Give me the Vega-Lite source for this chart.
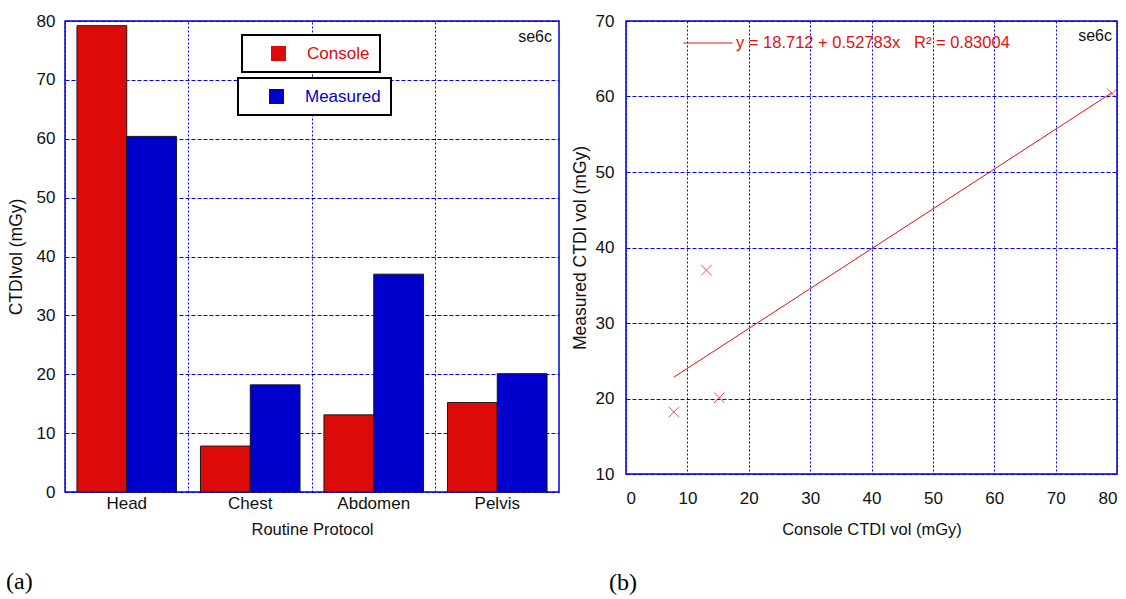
{
  "$schema": "https://vega.github.io/schema/vega-lite/v6.json",
  "padding": {"left": 5, "top": 11, "right": 5, "bottom": 0},
  "background": "white",
  "config": {
    "font": "Liberation Sans",
    "view": {"stroke": "#0000dd", "strokeWidth": 1.5},
    "axis": {
      "labelFont": "Liberation Sans", "titleFont": "Liberation Sans",
      "labelFontSize": 17, "titleFontSize": 16.5, "titleFontWeight": "normal",
      "labelColor": "#111111", "titleColor": "#111111",
      "gridColor": "#0000ee", "gridOpacity": 1, "gridWidth": 1,
      "domain": false, "ticks": false
    },
    "axisY": {"titleFontSize": 17.5},
    "legend": {"labelFont": "Liberation Sans", "strokeWidth": 2}
  },
  "resolve": {"scale": {"color": "independent"}, "legend": {"color": "independent"}},
  "datasets": {
    "bars": [
      {"protocol": "Head", "series": "Console", "value": 79.2},
      {"protocol": "Head", "series": "Measured", "value": 60.4},
      {"protocol": "Chest", "series": "Console", "value": 7.8},
      {"protocol": "Chest", "series": "Measured", "value": 18.2},
      {"protocol": "Abdomen", "series": "Console", "value": 13.1},
      {"protocol": "Abdomen", "series": "Measured", "value": 37.0},
      {"protocol": "Pelvis", "series": "Console", "value": 15.2},
      {"protocol": "Pelvis", "series": "Measured", "value": 20.1}
    ],
    "annotA": [{"label": "se6c", "protocol": "Pelvis", "y": 77.3}],
    "scatter": [
      {"console": 7.8, "measured": 18.2},
      {"console": 13.1, "measured": 37.0},
      {"console": 15.2, "measured": 20.1},
      {"console": 79.2, "measured": 60.4}
    ],
    "fit": [
      {"x": 7.8, "y": 22.83, "fit": "y = 18.712 + 0.52783x\u00a0\u00a0\u00a0R² = 0.83004"},
      {"x": 79.2, "y": 60.52, "fit": "y = 18.712 + 0.52783x\u00a0\u00a0\u00a0R² = 0.83004"}
    ],
    "annotB": [{"label": "se6c", "x": 80, "y": 68}]
  },
  "spacing": 10,
  "hconcat": [
    {
      "width": 494,
      "height": 471,
      "title": {"text": "(a)", "orient": "bottom", "anchor": "start", "frame": "group", "dx": -59, "offset": 32, "font": "Liberation Serif", "fontSize": 24, "fontWeight": "normal", "color": "#000000"},
      "layer": [
        {
          "data": {"name": "bars"},
          "transform": [{"filter": "datum.series === 'Console'"}],
          "mark": {"type": "bar", "stroke": "#1a1a1a", "strokeWidth": 1},
          "encoding": {
            "x": {"field": "protocol", "type": "nominal",
              "scale": {"domain": ["Head", "Chest", "Abdomen", "Pelvis"], "paddingInner": 0, "paddingOuter": 0},
              "axis": {"title": "Routine Protocol", "labelAngle": 0, "labelPadding": 3, "titlePadding": 10, "grid": false}},
            "xOffset": {"field": "series", "type": "nominal", "scale": {"domain": ["Console", "Measured"], "paddingInner": 0, "paddingOuter": 0.24}},
            "y": {"field": "value", "type": "quantitative", "scale": {"domain": [0, 80], "nice": false},
              "axis": {"title": "CTDIvol (mGy)", "values": [0, 10, 20, 30, 40, 50, 60, 70, 80], "grid": true, "gridDash": [4, 2], "labelPadding": 10, "titlePadding": 11}},
            "color": {"field": "series", "type": "nominal", "scale": {"domain": ["Console"], "range": ["#dd0a0a"]},
              "legend": {"title": null, "orient": "none", "legendX": 177, "legendY": 14, "strokeColor": "black", "fillColor": "white", "padding": 10, "symbolType": "square", "symbolSize": 225, "symbolOffset": 18, "labelOffset": 20, "labelColor": "#dd0a0a", "labelFontSize": 17, "symbolStrokeWidth": 0}}
          }
        },
        {
          "data": {"name": "bars"},
          "transform": [{"filter": "datum.series === 'Measured'"}],
          "mark": {"type": "bar", "stroke": "#1a1a1a", "strokeWidth": 1},
          "encoding": {
            "x": {"field": "protocol", "type": "nominal",
              "scale": {"domain": ["Head", "Chest", "Abdomen", "Pelvis"], "paddingInner": 0, "paddingOuter": 0},
              "axis": null},
            "xOffset": {"field": "series", "type": "nominal", "scale": {"domain": ["Console", "Measured"], "paddingInner": 0, "paddingOuter": 0.24}},
            "y": {"field": "value", "type": "quantitative", "scale": {"domain": [0, 80], "nice": false},
              "axis": {"title": "CTDIvol (mGy)", "values": [0, 10, 20, 30, 40, 50, 60, 70, 80], "grid": true, "gridDash": [4, 2], "labelPadding": 10, "titlePadding": 11}},
            "color": {"field": "series", "type": "nominal", "scale": {"domain": ["Measured"], "range": ["#0000cc"]},
              "legend": {"title": null, "orient": "none", "legendX": 173, "legendY": 57, "strokeColor": "black", "fillColor": "white", "padding": 10, "symbolType": "square", "symbolSize": 225, "symbolOffset": 20, "labelOffset": 20, "labelColor": "#0000cc", "labelFontSize": 17, "symbolStrokeWidth": 0}}
          }
        },
        {
          "data": {"name": "annotA"},
          "mark": {"type": "text", "align": "right", "baseline": "middle", "dx": -7, "fontSize": 16, "color": "#111111"},
          "encoding": {
            "x": {"field": "protocol", "type": "nominal", "bandPosition": 1,
              "scale": {"domain": ["Head", "Chest", "Abdomen", "Pelvis"], "paddingInner": 0, "paddingOuter": 0},
              "axis": {"orient": "top", "grid": true, "gridDash": [2, 2], "bandPosition": 0, "labels": false, "ticks": false, "domain": false, "title": null}},
            "y": {"field": "y", "type": "quantitative", "scale": {"domain": [0, 80], "nice": false},
              "axis": {"title": "CTDIvol (mGy)", "values": [0, 10, 20, 30, 40, 50, 60, 70, 80], "grid": true, "gridDash": [4, 2], "labelPadding": 10, "titlePadding": 11}},
            "text": {"field": "label"}
          }
        }
      ],
      "resolve": {"scale": {"color": "independent"}, "axis": {"x": "independent"}}
    },
    {
      "width": 491,
      "height": 453,
      "title": {"text": "(b)", "orient": "bottom", "anchor": "start", "frame": "group", "dx": -17, "offset": 33, "font": "Liberation Serif", "fontSize": 24, "fontWeight": "normal", "color": "#000000"},
      "layer": [
        {
          "data": {"name": "fit"},
          "mark": {"type": "line", "strokeWidth": 1},
          "encoding": {
            "x": {"field": "x", "type": "quantitative", "scale": {"domain": [0, 80], "nice": false},
              "axis": {"title": "Console CTDI vol (mGy)", "values": [0, 10, 20, 30, 40, 50, 60, 70, 80], "grid": true, "gridDash": [2, 2], "labelPadding": 16, "titlePadding": 15}},
            "y": {"field": "y", "type": "quantitative", "scale": {"domain": [10, 70], "nice": false},
              "axis": {"title": "Measured CTDI vol (mGy)", "values": [10, 20, 30, 40, 50, 60, 70], "grid": true, "gridDash": [4, 2], "labelPadding": 12, "titlePadding": 6}},
            "color": {"field": "fit", "type": "nominal", "scale": {"range": ["#e01010"]},
              "legend": {"title": null, "orient": "none", "legendX": 57, "legendY": -3, "padding": 0, "strokeColor": null, "symbolType": "stroke", "symbolSize": 2401, "symbolStrokeWidth": 1, "labelOffset": 3, "labelLimit": 500, "labelColor": "#e01010", "labelFontSize": 16.5}}
          }
        },
        {
          "data": {"name": "scatter"},
          "mark": {"type": "point", "shape": "M-1,-1L1,1M-1,1L1,-1", "filled": false, "color": "#e01010", "strokeWidth": 1, "size": 110},
          "encoding": {
            "x": {"field": "console", "type": "quantitative", "scale": {"domain": [0, 80], "nice": false},
              "axis": {"title": "Console CTDI vol (mGy)", "values": [0, 10, 20, 30, 40, 50, 60, 70, 80], "grid": true, "gridDash": [2, 2], "labelPadding": 16, "titlePadding": 15}},
            "y": {"field": "measured", "type": "quantitative", "scale": {"domain": [10, 70], "nice": false},
              "axis": {"title": "Measured CTDI vol (mGy)", "values": [10, 20, 30, 40, 50, 60, 70], "grid": true, "gridDash": [4, 2], "labelPadding": 12, "titlePadding": 6}}
          }
        },
        {
          "data": {"name": "annotB"},
          "mark": {"type": "text", "align": "right", "baseline": "middle", "dx": -5, "fontSize": 16, "color": "#111111"},
          "encoding": {
            "x": {"field": "x", "type": "quantitative", "scale": {"domain": [0, 80], "nice": false},
              "axis": {"title": "Console CTDI vol (mGy)", "values": [0, 10, 20, 30, 40, 50, 60, 70, 80], "grid": true, "gridDash": [2, 2], "labelPadding": 16, "titlePadding": 15}},
            "y": {"field": "y", "type": "quantitative", "scale": {"domain": [10, 70], "nice": false},
              "axis": {"title": "Measured CTDI vol (mGy)", "values": [10, 20, 30, 40, 50, 60, 70], "grid": true, "gridDash": [4, 2], "labelPadding": 12, "titlePadding": 6}},
            "text": {"field": "label"}
          }
        }
      ]
    }
  ]
}
